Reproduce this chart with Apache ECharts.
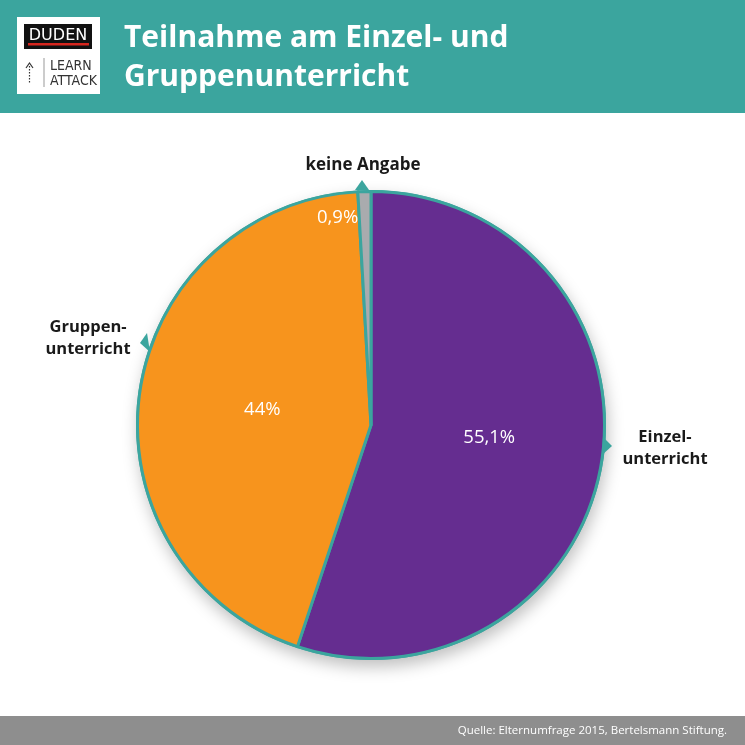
<!DOCTYPE html>
<html>
<head>
<meta charset="utf-8">
<script src="https://cdn.jsdelivr.net/npm/echarts@6/dist/echarts.min.js"></script>
<style>
  html, body { margin: 0; padding: 0; background: #fff; }
  #chart { width: 745px; height: 745px; }
</style>
</head>
<body>
<div id="chart"></div>
<script>
// Daten
var categories = ['Einzel-\nunterricht', 'Gruppen-\nunterricht', 'keine Angabe'];
var values = [55.1, 44, 0.9];
var colors = ['#652d90', '#f7941d', '#a9abae'];

var teal = '#3ba59e';
var font = '"Open Sans", "Noto Sans", sans-serif';

var pieData = categories.map(function (name, i) {
    return { name: name, value: values[i], itemStyle: { color: colors[i] } };
});

// Verschiebung der Prozentwerte in der Torte
var labelShift = [[0, -6], [10, 0], [-30, -88]];

var chart = echarts.init(document.getElementById('chart'));

var option = {
    backgroundColor: '#fff',
    animation: false,
    series: [
        // Schatten unter der Torte
        {
            type: 'pie',
            silent: true,
            z: 1,
            center: [371, 425],
            radius: 235,
            label: { show: false },
            data: [{ value: 1, itemStyle: { color: teal } }],
            itemStyle: {
                shadowBlur: 16,
                shadowColor: 'rgba(0,0,0,0.25)',
                shadowOffsetY: 7,
                shadowOffsetX: 2
            }
        },
        {
            type: 'pie',
            z: 2,
            center: [371, 425],
            radius: 233.5,
            startAngle: 90,
            clockwise: true,
            itemStyle: { borderColor: teal, borderWidth: 3 },
            label: {
                show: true,
                position: 'inside',
                color: '#fff',
                fontSize: 18.5,
                fontFamily: font,
                formatter: function (p) {
                    return String(p.value).replace('.', ',') + '%';
                }
            },
            labelLine: { show: false },
            labelLayout: function (params) {
                var s = labelShift[params.dataIndex];
                return { dx: s[0], dy: s[1] };
            },
            data: pieData
        }
    ],
    graphic: [
        // Kopfzeile
        { type: 'rect', z: 0, shape: { x: 0, y: 0, width: 745, height: 113 }, style: { fill: teal } },
        {
            type: 'text', left: 124, top: 19,
            style: {
                text: 'Teilnahme am Einzel- und\nGruppenunterricht',
                fill: '#fff', font: 'bold 30px ' + font, lineHeight: 39
            }
        },
        // Logo
        { type: 'rect', shape: { x: 17, y: 17, width: 83, height: 77 }, style: { fill: '#fff' } },
        { type: 'rect', shape: { x: 24, y: 24, width: 68, height: 25 }, style: { fill: '#111' } },
        {
            type: 'text', x: 58, y: 36,
            style: {
                text: 'DUDEN', fill: '#fff', align: 'center', verticalAlign: 'middle',
                font: '16px "DejaVu Sans", sans-serif'
            }
        },
        { type: 'rect', shape: { x: 28, y: 43, width: 61, height: 2.5 }, style: { fill: '#d7261e' } },
        { type: 'line', shape: { x1: 29.5, y1: 66, x2: 29.5, y2: 83 }, style: { stroke: '#333', lineWidth: 1.2, lineDash: [1.5, 1.5] } },
        { type: 'polyline', shape: { points: [[26, 68], [29.5, 63], [33, 68]] }, style: { stroke: '#333', lineWidth: 1.2, fill: null } },
        { type: 'line', shape: { x1: 44, y1: 58, x2: 44, y2: 87 }, style: { stroke: '#999', lineWidth: 1 } },
        {
            type: 'text', x: 50, y: 59,
            style: {
                text: 'LEARN\nATTACK', fill: '#333', lineHeight: 15,
                font: '14px "Liberation Sans Narrow", "DejaVu Sans Condensed", sans-serif'
            }
        },
        // Zeiger
        { type: 'polygon', z: 3, shape: { points: [[355, 190], [362, 180], [369, 190]] }, style: { fill: teal } },
        { type: 'polygon', z: 3, shape: { points: [[147, 333], [140, 343], [150, 352]] }, style: { fill: teal } },
        { type: 'polygon', z: 3, shape: { points: [[603, 437], [612, 446], [602, 455]] }, style: { fill: teal } },
        // Beschriftungen
        {
            type: 'text', x: 363, y: 165,
            style: {
                text: categories[2], fill: '#1a1a1a', align: 'center', verticalAlign: 'middle',
                font: 'bold 17px ' + font
            }
        },
        {
            type: 'text', x: 88, y: 338,
            style: {
                text: categories[1], fill: '#1a1a1a', align: 'center', verticalAlign: 'middle',
                font: 'bold 16.5px ' + font, lineHeight: 22
            }
        },
        {
            type: 'text', x: 665, y: 448,
            style: {
                text: categories[0], fill: '#1a1a1a', align: 'center', verticalAlign: 'middle',
                font: 'bold 16.5px ' + font, lineHeight: 22
            }
        },
        // Fußzeile
        { type: 'rect', shape: { x: 0, y: 716, width: 745, height: 29 }, style: { fill: '#8e8e8e' } },
        {
            type: 'text', x: 727, y: 731,
            style: {
                text: 'Quelle: Elternumfrage 2015, Bertelsmann Stiftung.', fill: '#fff',
                align: 'right', verticalAlign: 'middle', font: '11.5px ' + font
            }
        }
    ]
};

chart.setOption(option);
</script>
</body>
</html>
